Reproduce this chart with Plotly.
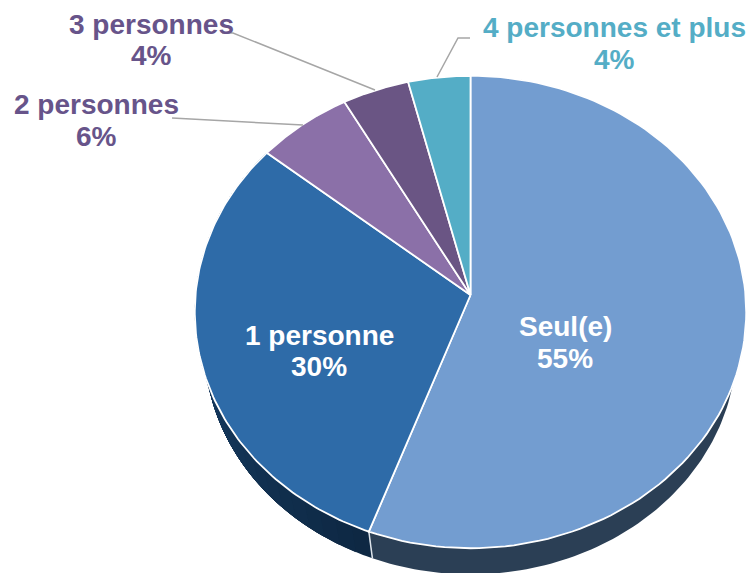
import numpy as np
import plotly.graph_objects as go

# --- data ---
categories = ["Seul(e)", "1 personne", "2 personnes", "3 personnes", "4 personnes et plus"]
shares = [55.6, 30.3, 6.0, 4.2, 3.9]          # slice sizes as measured
shown_pct = [55, 30, 6, 4, 4]                 # rounded labels printed on the chart

# --- styles ---
top_colors = ["#739DD0", "#2E6BA8", "#8B70A8", "#6A5584", "#54ADC6"]
side_from = ["#2B3F55", "#0E2843", "#4A3B5E", "#3D3050", "#2F6A7C"]
side_to = ["#2B3F55", "#1C4B7A", "#4A3B5E", "#3D3050", "#2F6A7C"]
text_colors = ["#FFFFFF", "#FFFFFF", "#67548A", "#67548A", "#54ADC6"]
FONT = "Liberation Sans"

CX, CY, RX, RY, K = 470.5, 295.0, 275.0, 235.0, 0.072
SHRINK, DROP = 0.965, 35.0


def project(theta, scale=1.0, drop=0.0):
    u, v = np.sin(theta), np.cos(theta)
    w = 1 + K * v
    return CX + scale * RX * u / w, CY + scale * RY * (-v) / w + drop


def hex_mix(a, b, t):
    ca = [int(a[i:i + 2], 16) for i in (1, 3, 5)]
    cb = [int(b[i:i + 2], 16) for i in (1, 3, 5)]
    return "rgb(%d,%d,%d)" % tuple(round(x + (y - x) * t) for x, y in zip(ca, cb))


fractions = np.array(shares) / sum(shares)
edges = np.concatenate([[0], np.cumsum(fractions)]) * 2 * np.pi
fig = go.Figure()

# side walls, painted first: each strip runs to the wedge end, so overlap hides seams
for i in range(len(categories)):
    n = 30 if side_from[i] != side_to[i] else 1
    cuts = np.linspace(edges[i], edges[i + 1], n + 1)
    for j in range(n):
        th = np.linspace(cuts[j], edges[i + 1], 160)
        x1, y1 = project(th)
        x2, y2 = project(th[::-1], SHRINK, DROP)
        fig.add_trace(go.Scatter(
            x=np.r_[x1, x2, x1[0]], y=np.r_[y1, y2, y1[0]], mode="lines", fill="toself",
            fillcolor=hex_mix(side_from[i], side_to[i], j / max(n - 1, 1)),
            line=dict(width=0), hoverinfo="skip", showlegend=False))
    # pale seam between the two visible walls
    if i == 1:
        x1, y1 = project(edges[i])
        x2, y2 = project(edges[i], SHRINK, DROP)
        fig.add_trace(go.Scatter(x=[x1, x2], y=[y1, y2], mode="lines",
                                 line=dict(color="#DDE3EA", width=1.5),
                                 hoverinfo="skip", showlegend=False))

# top faces
for i, cat in enumerate(categories):
    th = np.linspace(edges[i], edges[i + 1], 120)
    x, y = project(th)
    fig.add_trace(go.Scatter(
        x=np.r_[CX, x, CX], y=np.r_[CY, y, CY], mode="lines", fill="toself",
        fillcolor=top_colors[i], line=dict(color="#FFFFFF", width=1.8),
        name=cat, hoverinfo="name", showlegend=False))

# leader lines
leaders = [
    ([172, 303], [118, 125]),
    ([222, 233, 375], [33, 33, 90]),
    ([437, 458, 470], [77, 38, 38]),
]
for lx, ly in leaders:
    fig.add_trace(go.Scatter(x=lx, y=ly, mode="lines", line=dict(color="#A6A6A6", width=1.5),
                             hoverinfo="skip", showlegend=False))

# labels
label_pos = [(565, 326, 358), (319, 335, 366), (96, 104, 136), (151, 24, 55), (614, 27, 59)]
for i, (lx, y1, y2) in enumerate(label_pos):
    for txt, yy in ((categories[i], y1), (f"{shown_pct[i]}%", y2)):
        fig.add_annotation(x=lx, y=yy, text=f"<b>{txt}</b>", showarrow=False, xref="x", yref="y",
                           xanchor="center", yanchor="middle",
                           font=dict(family=FONT, size=28, color=text_colors[i]))

fig.update_layout(
    width=748, height=573, margin=dict(l=0, r=0, t=0, b=0),
    paper_bgcolor="white", plot_bgcolor="white", showlegend=False,
    xaxis=dict(range=[0, 748], visible=False, fixedrange=True),
    yaxis=dict(range=[573, 0], visible=False, fixedrange=True),
)
fig.write_html("out.html", config={"displayModeBar": False},
               post_script="document.body.style.margin='0';document.body.style.overflow='hidden';")
